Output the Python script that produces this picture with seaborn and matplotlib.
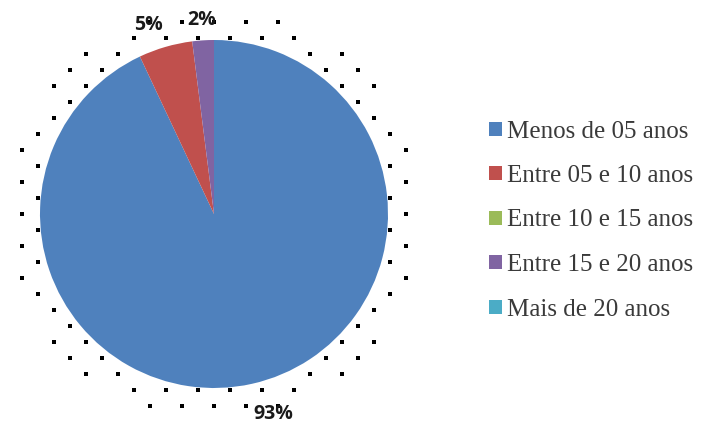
import matplotlib
matplotlib.use("Agg")
import matplotlib.pyplot as plt
import seaborn as sns
import numpy as np

# Dados
faixas = ['Menos de 05 anos', 'Entre 05 e 10 anos', 'Entre 10 e 15 anos',
          'Entre 15 e 20 anos', 'Mais de 20 anos']
valores = [93, 5, 0, 2, 0]
cores = ['#4F81BD', '#C0504D', '#9BBB59', '#8064A2', '#4BACC6']

sns.set_theme(style="white")

fig = plt.figure(figsize=(7.05, 4.28), dpi=100)
ax = fig.add_axes([40 / 705, 40 / 428, 348 / 705, 348 / 428])

# sombra pontilhada em volta do grafico (como no original)
px = 1 / 174
i = np.arange(-13, 14)
gi, gj = np.meshgrid(i, i)
gx, gy = gi * 16 * px, gj * 16 * px
rr = np.hypot(gx, gy)
m = (rr > 1.0) & (rr < 1.19) & ((gi + gj) % 2 == 0)
ax.scatter(gx[m], gy[m], marker='s', s=7, color='black', linewidths=0,
           clip_on=False, zorder=0)

fatias, _, rotulos = ax.pie(
    valores,
    colors=sns.color_palette(cores),
    startangle=90,
    counterclock=False,
    radius=1,
    autopct=lambda p: f'{p:.0f}%' if p >= 1 else '',
    pctdistance=1.14,
    wedgeprops=dict(linewidth=0, zorder=2),
    textprops=dict(fontsize=14, fontweight='bold', color='#1a1a1a',
                   family=['Open Sans', 'DejaVu Sans']),
)
for t in rotulos:
    t.set_clip_on(False)
x0, y0 = rotulos[0].get_position()
rotulos[0].set_position((x0 + 0.09, y0 - 0.035))
x1, y1 = rotulos[1].get_position()
rotulos[1].set_position((x1 - 0.06, y1 - 0.01))
x3, y3 = rotulos[3].get_position()
rotulos[3].set_position((x3, y3 - 0.02))

ax.set_xlim(-1, 1)
ax.set_ylim(-1, 1)
ax.set_aspect('equal')
ax.axis('off')

leg = fig.legend(
    fatias, faixas,
    loc='upper left', bbox_to_anchor=(467 / 705, 1 - 98 / 428),
    frameon=False, handlelength=0.5, handleheight=0.5, handletextpad=0.2,
    labelspacing=0.9,
    prop=dict(family=['Liberation Serif'], size=18),
)
for txt in leg.get_texts():
    txt.set_color('#3a3a3a')

fig.savefig('out.png', dpi=100)
